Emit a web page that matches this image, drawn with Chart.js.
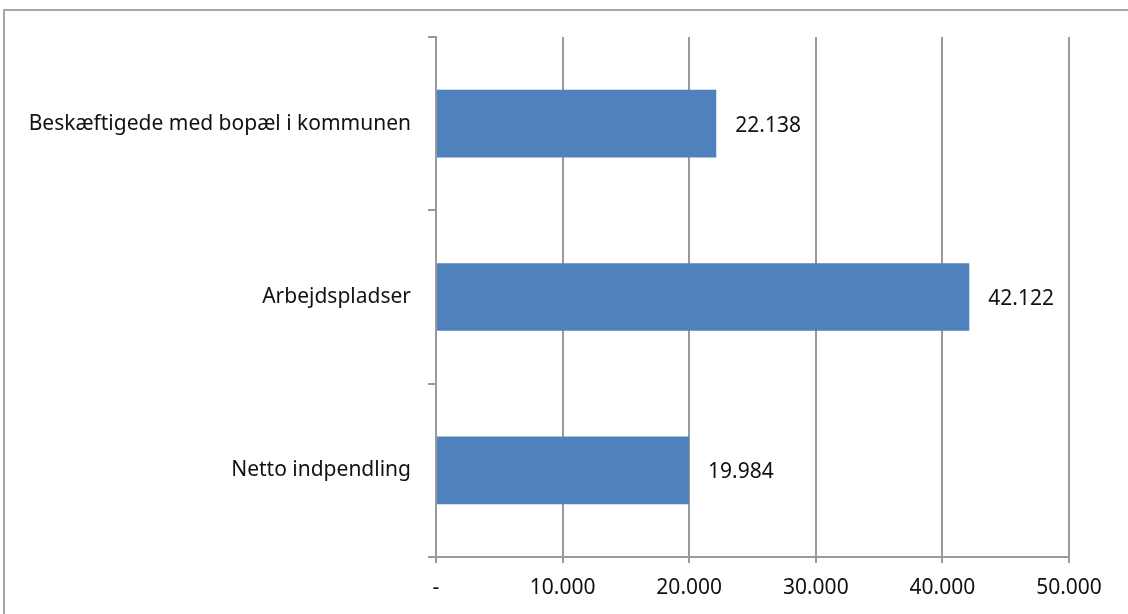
<!DOCTYPE html>
<html>
<head>
<meta charset="utf-8">
<script src="https://cdn.jsdelivr.net/npm/chart.js@4/dist/chart.umd.min.js"></script>
<style>
  html, body { margin: 0; padding: 0; background: #fff; }
  #wrap { position: relative; width: 1128px; height: 614px; overflow: hidden; }
  #frame { position: absolute; left: 3px; top: 9px; width: 1200px; height: 700px;
           border-left: 2px solid #a6a6a6; border-top: 2px solid #a6a6a6; pointer-events: none; }
  canvas { position: absolute; left: 0; top: 0; }
</style>
</head>
<body>
<div id="wrap">
  <canvas id="c" width="1128" height="614"></canvas>
  <div id="frame"></div>
</div>
<script>
const categories = ["Beskæftigede med bopæl i kommunen", "Arbejdspladser", "Netto indpendling"];
const values = [22138, 42122, 19984];
const xTickValues = [0, 10000, 20000, 30000, 40000, 50000];
const xTickLabels = ["-", "10.000", "20.000", "30.000", "40.000", "50.000"];

const FONT = "'Noto Sans', sans-serif";
const fmt = v => String(v).replace(/\B(?=(\d{3})+(?!\d))/g, ".");

const valueLabels = {
  id: 'valueLabels',
  afterDatasetsDraw(chart) {
    const ctx = chart.ctx;
    const meta = chart.getDatasetMeta(0);
    ctx.save();
    ctx.font = "21px " + FONT;
    ctx.fillStyle = "#111";
    ctx.textAlign = "left";
    ctx.textBaseline = "middle";
    meta.data.forEach((bar, i) => {
      ctx.fillText(fmt(values[i]), bar.x + 19, bar.y + 2);
    });
    ctx.restore();
  }
};

new Chart(document.getElementById('c'), {
  type: 'bar',
  data: {
    labels: categories,
    datasets: [{
      data: values,
      backgroundColor: '#4F81BD',
      borderWidth: 0,
      categoryPercentage: 0.39,
      barPercentage: 1
    }]
  },
  options: {
    indexAxis: 'y',
    responsive: false,
    animation: false,
    devicePixelRatio: 1,
    layout: { padding: { top: 37, right: 59, left: 0, bottom: 0 } },
    plugins: { legend: { display: false }, tooltip: { enabled: false } },
    scales: {
      x: {
        min: 0, max: 50000,
        afterBuildTicks(scale) { scale.ticks = xTickValues.map(v => ({ value: v })); },
        afterFit(scale) { scale.height = 57; },
        grid: { color: '#9a9a9a', lineWidth: 2, tickLength: 6, drawOnChartArea: true },
        border: { display: true, color: '#9a9a9a', width: 2 },
        ticks: {
          font: { family: FONT, size: 21 }, color: '#111', padding: 12,
          maxRotation: 0, autoSkip: false,
          callback: (v, i) => xTickLabels[i]
        }
      },
      y: {
        afterFit(scale) { scale.width = 436; },
        grid: { drawOnChartArea: false, color: '#9a9a9a', lineWidth: 2, tickLength: 8, offset: true },
        border: { display: true, color: '#9a9a9a', width: 2 },
        ticks: { font: { family: FONT, size: 21 }, color: '#111', padding: 17 }
      }
    }
  },
  plugins: [valueLabels]
});
</script>
</body>
</html>
